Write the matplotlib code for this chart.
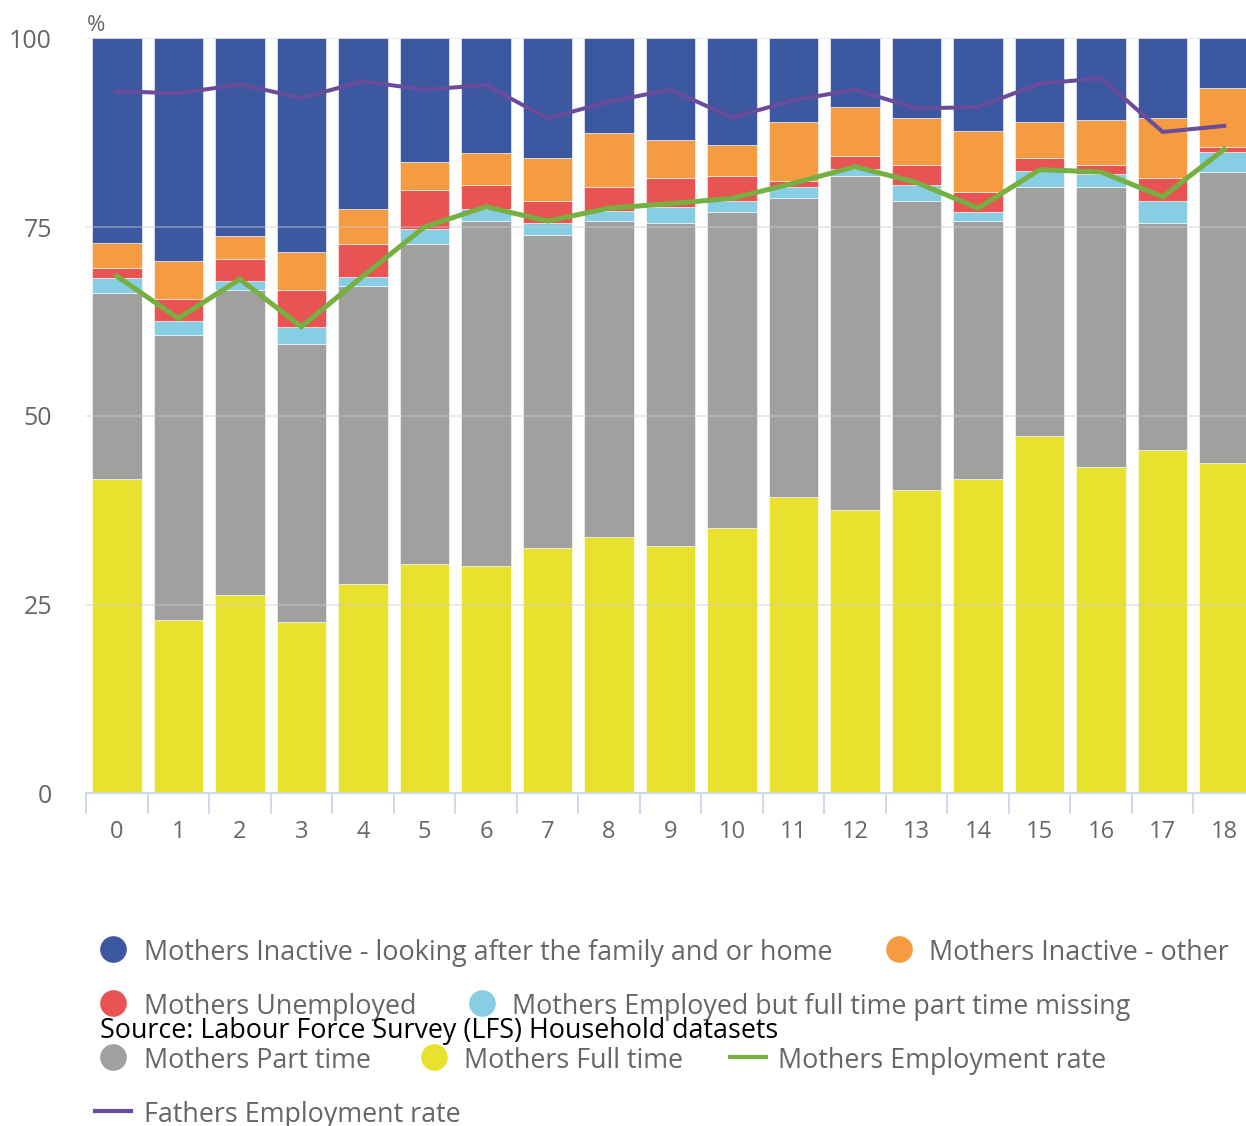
import numpy as np
import matplotlib.pyplot as plt
from matplotlib.ticker import MultipleLocator, FixedLocator

plt.rcParams['font.family'] = ['Open Sans', 'DejaVu Sans']

ages = [str(i) for i in range(19)]

full_time = [41.6, 23.0, 26.3, 22.7, 27.7, 30.4, 30.1, 32.5, 33.9, 32.8,
             35.1, 39.2, 37.5, 40.2, 41.6, 47.3, 43.2, 45.5, 43.7]
part_time = [24.7, 37.7, 40.4, 36.8, 39.5, 42.4, 45.7, 41.5, 41.9, 42.7,
             41.9, 39.6, 44.3, 38.3, 34.2, 33.0, 37.1, 30.0, 38.6]
emp_missing = [1.9, 1.8, 1.2, 2.2, 1.2, 1.9, 1.6, 1.6, 1.3, 2.2,
               1.5, 1.5, 0.9, 2.1, 1.2, 2.1, 1.7, 3.0, 2.7]
unemployed = [1.4, 3.0, 2.9, 5.0, 4.4, 5.2, 3.2, 2.9, 3.2, 3.8,
              3.3, 0.8, 1.7, 2.6, 2.6, 1.7, 1.2, 3.0, 0.6]
inactive_other = [3.3, 5.0, 3.0, 5.0, 4.6, 3.7, 4.2, 5.7, 7.1, 5.0,
                  4.1, 7.8, 6.5, 6.3, 8.1, 4.8, 6.0, 8.0, 7.8]
inactive_family = [27.1, 29.5, 26.2, 28.3, 22.6, 16.4, 15.2, 15.8, 12.6, 13.5,
                   14.1, 11.1, 9.1, 10.5, 12.3, 11.1, 10.8, 10.5, 6.6]
mothers_rate = [68.5, 62.9, 68.1, 61.8, 68.5, 75.0, 77.7, 75.8, 77.5, 78.1,
                78.8, 80.8, 83.0, 80.9, 77.5, 82.6, 82.3, 79.0, 85.3]
fathers_rate = [93.0, 92.7, 93.9, 92.1, 94.3, 93.2, 93.8, 89.4, 91.6, 93.2,
                89.5, 91.8, 93.2, 90.7, 90.9, 94.0, 94.7, 87.6, 88.4]

series = [
    ('Mothers Full time', full_time, '#e8e22e'),
    ('Mothers Part time', part_time, '#a0a09f'),
    ('Mothers Employed but full time part time missing', emp_missing, '#87cde3'),
    ('Mothers Unemployed', unemployed, '#e85354'),
    ('Mothers Inactive - other', inactive_other, '#f59c42'),
    ('Mothers Inactive - looking after the family and or home', inactive_family, '#3b58a0'),
]
green = '#76b041'
purple = '#6b4c9a'
txt = '#666666'

W, H = 1246, 1126
fig = plt.figure(figsize=(W / 100, H / 100), dpi=100)
# axes: x 86..1255 px (right part cut off by figure), y 38..793 px
ax = fig.add_axes([86 / W, (H - 793.3) / H, (1255 - 86) / W, (793.3 - 38.3) / H])

x = np.arange(len(ages))
bottom = np.zeros(len(ages))
for name, vals, col in series:
    ax.bar(x, vals, width=0.805, bottom=bottom, color=col, edgecolor='white',
           linewidth=0.4, zorder=2)
    bottom += np.array(vals)

ax.plot(x, mothers_rate, color=green, lw=3.6, zorder=4, solid_joinstyle='miter')
ax.plot(x, fathers_rate, color=purple, lw=2.9, zorder=4, solid_joinstyle='miter')

ax.set_xlim(-0.5, 18.5)
ax.set_ylim(0, 100)
ax.yaxis.set_major_locator(MultipleLocator(25))
for v in [25, 50, 75, 100]:
    ax.axhline(v, color='#cccccc', lw=1.3, alpha=0.45, zorder=3)
ax.set_xticks(x)
ax.set_xticklabels(ages)
ax.xaxis.set_minor_locator(FixedLocator(np.arange(-0.5, 18, 1)))
ax.tick_params(axis='x', which='major', length=0, pad=19, labelsize=17, labelcolor=txt)
ax.tick_params(axis='x', which='minor', length=15, width=1.3, color='#ccd6eb')
ax.tick_params(axis='y', length=0, pad=24.5, labelsize=18, labelcolor=txt)
for lbl in ax.get_yticklabels():
    lbl.set_va('center_baseline')
for s in ['top', 'right', 'left']:
    ax.spines[s].set_visible(False)
ax.spines['bottom'].set_color('#ccd6eb')
ax.spines['bottom'].set_linewidth(1.3)
ax.set_axisbelow(False)

# overlay in pixel coords for unit label and legend
lax = fig.add_axes([0, 0, 1, 1])
lax.set_xlim(0, W)
lax.set_ylim(H, 0)
lax.axis('off')
lax.patch.set_alpha(0)

lax.text(87, 31, '%', fontsize=16, color=txt, va='baseline')

lfs = 19.4
colors = {name: col for name, _, col in series}
rows = [
    [('c', 113, 949, 144, 'Mothers Inactive - looking after the family and or home'),
     ('c', 899, 949, 929, 'Mothers Inactive - other')],
    [('c', 113, 1003, 144, 'Mothers Unemployed'),
     ('c', 482, 1003, 512, 'Mothers Employed but full time part time missing')],
    [('c', 113, 1057, 144, 'Mothers Part time'),
     ('c', 434, 1057, 464, 'Mothers Full time'),
     ('l', 748, 1057, 778, 'Mothers Employment rate')],
    [('l', 113, 1111, 144, 'Fathers Employment rate')],
]
for row in rows:
    for kind, mx, my, tx, label in row:
        if kind == 'c':
            lax.scatter([mx], [my], s=330, color=colors[label], zorder=3)
        else:
            c = green if label.startswith('Mothers') else purple
            lax.plot([mx - 18, mx + 18], [my, my], color=c, lw=3)
        lax.text(tx, my + 11, label, fontsize=lfs, color=txt, va='baseline')

lax.text(100, 1038, 'Source: Labour Force Survey (LFS) Household datasets',
         fontsize=19.4, color='black', va='baseline')

fig.savefig('out.png', dpi=100)
